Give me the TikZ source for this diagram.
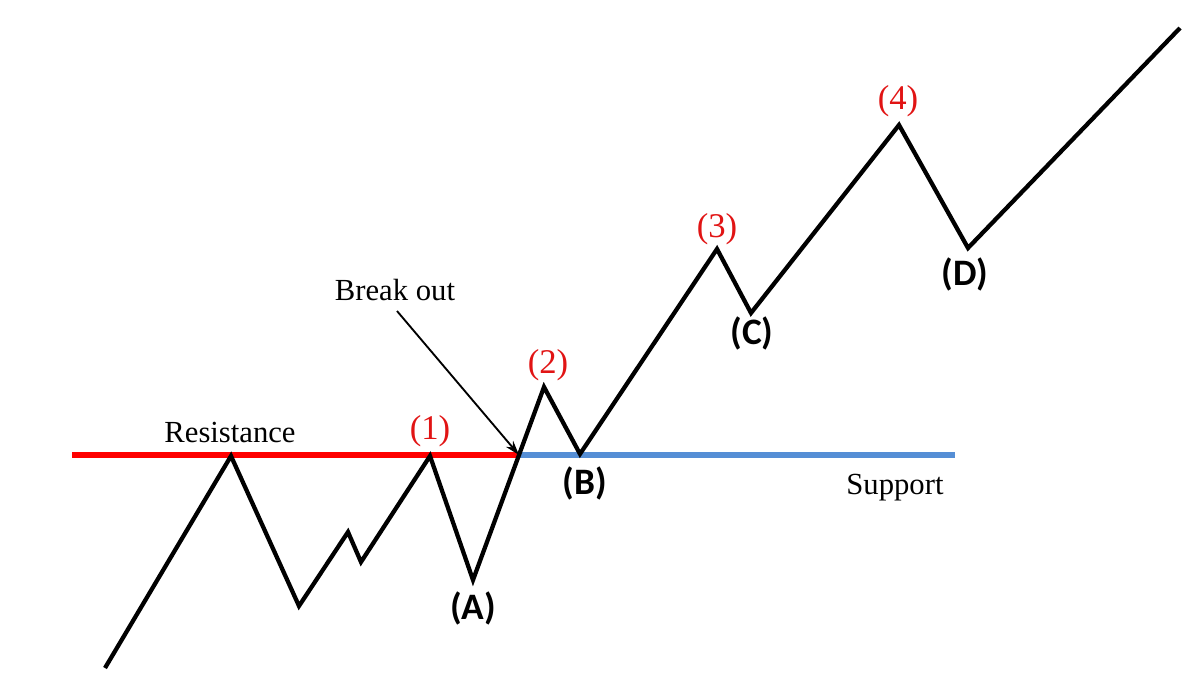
\documentclass[tikz,border=0pt]{standalone}
\usepackage{fontspec}
\setmainfont{Liberation Serif}
\newfontfamily\ptfont{Carlito}
\usetikzlibrary{arrows.meta}
\definecolor{resred}{RGB}{255,0,0}
\definecolor{suppblue}{RGB}{85,142,213}
\definecolor{numred}{RGB}{225,20,20}

\begin{document}
\begin{tikzpicture}[x=0.75pt,y=-0.75pt,
  price/.style={line width=3.2pt},
  level/.style={line width=4.5pt},
  numlabel/.style={text=numred,font=\fontsize{26}{26}\selectfont},
  ptlabel/.style={font=\ptfont\bfseries\fontsize{28}{28}\selectfont},
  note/.style={font=\fontsize{23}{23}\selectfont}]
\useasboundingbox (0,0) rectangle (1200,684);

% price path
\coordinate (s) at (105,668);
\coordinate (p0) at (231,456);
\coordinate (t0) at (299,606);
\coordinate (p1a) at (348,532);
\coordinate (t1a) at (361,562);
\coordinate (p1) at (430,456);
\coordinate (tA) at (473,580);
\coordinate (bo) at (519,455);
\coordinate (p2) at (544,387);
\coordinate (tB) at (580,454);
\coordinate (p3) at (717,249);
\coordinate (tC) at (751,313);
\coordinate (p4) at (899,125);
\coordinate (tD) at (968,248);
\coordinate (e) at (1180,28);

% resistance / support levels
\coordinate (rl) at (72,455);
\coordinate (sr) at (955,455);
\draw[level,resred] (rl) -- (bo);
\draw[level,suppblue] (bo) -- (sr);

\draw[price] (s) -- (p0) -- (t0) -- (p1a) -- (t1a) -- (p1) -- (tA) -- (bo)
  -- (p2) -- (tB) -- (p3) -- (tC) -- (p4) -- (tD) -- (e);

% labels
\node[note] (res) at (230,432) {Resistance};
\node[note] (sup) at (895,488) {Support};
\node[note] (brk) at (395,290) {Break out};
\coordinate (tail) at (397,311);
\draw[line width=1.4pt,-{Stealth[length=11pt,width=7pt]}] (tail) -- (bo);

\node[numlabel] (n1) at (430,431) {(1)};
\node[numlabel] (n2) at (548,365) {(2)};
\node[numlabel] (n3) at (717,229) {(3)};
\node[numlabel] (n4) at (898,101) {(4)};

\node[ptlabel] (lA) at (473,608) {(A)};
\node[ptlabel] (lB) at (585,483) {(B)};
\node[ptlabel] (lC) at (752,333) {(C)};
\node[ptlabel] (lD) at (965,274) {(D)};
\end{tikzpicture}
\end{document}
